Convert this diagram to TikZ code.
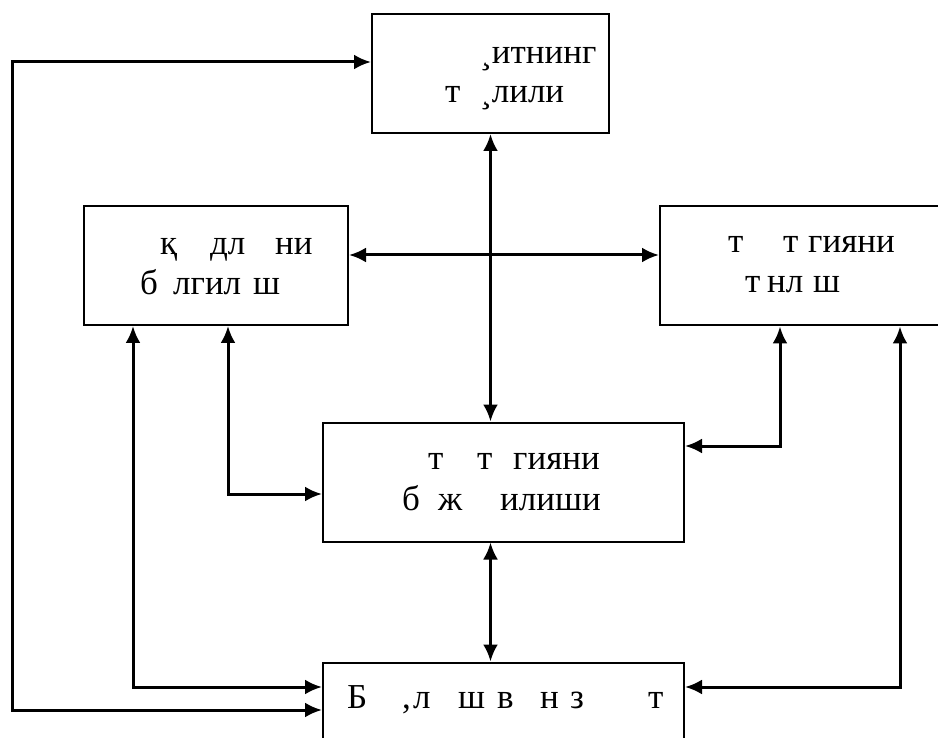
\documentclass[tikz,border=0pt]{standalone}
\usepackage{fontspec}
\setmainfont{Liberation Serif}
\usetikzlibrary{arrows.meta}

\begin{document}
\begin{tikzpicture}[x=1pt, y=-1pt, >={Latex[length=17pt,width=15pt]}]
  \tikzstyle{block} = [draw, line width=2pt, fill=white, rectangle, inner sep=0pt, minimum height=119pt];
  \tikzstyle{blockText} = [anchor=base west, inner sep=0pt, font={\fontsize{35}{42}\selectfont}];
  \tikzstyle{link} = [black, line width=3pt, <->];

  \useasboundingbox (0,0) rectangle (938,738);
  \clip (0,0) rectangle (938,738);

  % boxes
  \node[block, minimum width=237pt] (life)   at (490.5,73.5) {};
  \node[block, minimum width=264pt] (goal)   at (216,265.5)  {};
  \node[block, minimum width=300pt] (choose) at (810,266)    {};
  \node[block, minimum width=361pt] (manage) at (503.5,482)  {};
  \node[block, minimum width=361pt] (head)   at (503.5,722)  {};

  % texts, as printed (with the gaps)
  \node[blockText] (lifeA)   at (445,64)  {\makebox[35pt][l]{}¸итнинг};
  \node[blockText] (lifeB)   at (445,103) {\makebox[35pt][l]{т}¸лили};
  \node[blockText] (goalA)   at (160,255) {\makebox[50pt][l]{қ}\makebox[65pt][l]{дл}ни};
  \node[blockText] (goalB)   at (140,295) {\makebox[33pt][l]{б}\makebox[80pt][l]{лгил}ш};
  \node[blockText] (chooseA) at (728,253) {\makebox[55pt][l]{т}\makebox[25pt][l]{т}гияни};
  \node[blockText] (chooseB) at (745,293) {\makebox[22pt][l]{т}\makebox[46pt][l]{нл}ш};
  \node[blockText] (manageA) at (428,469) {\makebox[49pt][l]{т}\makebox[36pt][l]{т}гияни};
  \node[blockText] (manageB) at (402,510) {\makebox[36pt][l]{б}\makebox[62pt][l]{ж}илиши};
  \node[blockText] (headA)   at (347,708) {\makebox[55pt][l]{Б}\makebox[11pt][l]{,}\makebox[45pt][l]{л}\makebox[39pt][l]{ш}\makebox[43pt][l]{в}\makebox[30pt][l]{н}\makebox[78pt][l]{з}т};

  % connectors
  \draw[link] (life.south) -- (life.south |- manage.north);
  \draw[link] ([yshift=10.5pt]goal.east) -- ([yshift=10.5pt]goal.east -| choose.west);
  \draw[link] (life.south |- manage.south) -- (life.south |- head.north);
  \draw[link] ([xshift=12pt]goal.south) |- ([yshift=-12pt]manage.west);
  \draw[link] ([xshift=-83pt]goal.south) |- ([yshift=35pt]head.west);
  \draw[link] ([xshift=-30pt]choose.south) |- ([yshift=36pt]manage.east);
  \draw[link] ([xshift=90pt]choose.south) |- ([yshift=35pt]head.east);

  \coordinate (loopLow) at (12,710);
  \draw[link] ([yshift=11.5pt]life.west) -| (loopLow) -- (loopLow -| head.west);
\end{tikzpicture}
\end{document}
